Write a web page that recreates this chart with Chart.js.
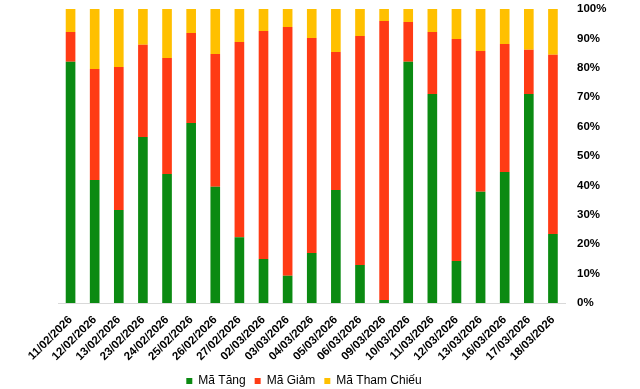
<!DOCTYPE html>
<html>
<head>
<meta charset="utf-8">
<script src="https://cdn.jsdelivr.net/npm/chart.js@4.4.1/dist/chart.umd.min.js"></script>
<style>
  html, body { margin: 0; padding: 0; background: #fff; }
  #wrap { width: 640px; height: 389px; }
</style>
</head>
<body>
<div id="wrap"><canvas id="myChartCanvas" width="640" height="389"></canvas></div>
<script>
// ngày giao dịch
const ngay = ['11/02/2026', '12/02/2026', '13/02/2026', '23/02/2026', '24/02/2026', '25/02/2026',
    '26/02/2026', '27/02/2026', '02/03/2026', '03/03/2026', '04/03/2026', '05/03/2026',
    '06/03/2026', '09/03/2026', '10/03/2026', '11/03/2026', '12/03/2026', '13/03/2026',
    '16/03/2026', '17/03/2026', '18/03/2026'];

// tỷ lệ (%) mỗi nhóm mã
const maTang = [82.1, 41.8, 31.6, 56.5, 43.9, 61.2, 39.5, 22.4, 15.0, 9.3, 17.0, 38.4,
    12.9, 1.0, 82.1, 71.1, 14.3, 37.8, 44.6, 71.1, 23.5];
const maGiam = [10.1, 37.8, 48.7, 31.3, 39.4, 30.6, 45.2, 66.4, 77.5, 84.6, 73.1, 47.0,
    77.9, 94.9, 13.5, 21.1, 75.5, 47.9, 43.5, 15.0, 60.9];
const maThamChieu = [7.8, 20.4, 19.7, 12.2, 16.7, 8.2, 15.3, 11.2, 7.5, 6.1, 9.9, 14.6,
    9.2, 4.1, 4.4, 7.8, 10.2, 14.3, 11.9, 13.9, 15.6];

const yTicks = [0, 10, 20, 30, 40, 50, 60, 70, 80, 90, 100];

const fonte = 'Arial, "Liberation Sans", sans-serif';

function serie(nome, valores, cor) {
    return {
        label: nome,
        data: valores,
        backgroundColor: cor,
        borderWidth: 0,
        barPercentage: 0.8,
        categoryPercentage: 0.5
    };
}

const config = {
    type: 'bar',
    data: {
        labels: ngay,
        datasets: [
            serie('Mã Tăng', maTang, 'rgb(11, 138, 18)'),
            serie('Mã Giảm', maGiam, 'rgb(255, 59, 20)'),
            serie('Mã Tham Chiếu', maThamChieu, 'rgb(255, 192, 0)')
        ]
    },
    options: {
        responsive: false,
        animation: false,
        // legenda centrada em ~304px e mais perto da borda de baixo
        layout: { padding: { left: 0, right: 32, top: 0, bottom: -8 } },
        plugins: {
            tooltip: { enabled: false },
            legend: {
                position: 'bottom',
                labels: {
                    boxWidth: 6,
                    boxHeight: 6,
                    padding: 9,
                    color: '#000',
                    font: { family: fonte, size: 12 }
                }
            }
        },
        scales: {
            x: {
                stacked: true,
                grid: { display: false, drawTicks: false },
                border: { display: true, color: '#d9d9d9', width: 1 },
                ticks: {
                    minRotation: 45,
                    maxRotation: 45,
                    autoSkip: false,
                    padding: 10,
                    color: '#000',
                    font: { family: fonte, size: 11.5, weight: 'bold' }
                },
                afterFit: function (s) { s.height = 63; s.paddingLeft = 58.5; s.paddingRight = 0; }
            },
            y: {
                stacked: true,
                position: 'right',
                min: 0,
                max: 100,
                afterBuildTicks: function (s) { s.ticks = yTicks.map(v => ({ value: v })); },
                grid: { display: false, drawTicks: false },
                border: { display: false },
                ticks: {
                    padding: 12,
                    color: '#000',
                    font: { family: fonte, size: 11.5, weight: 'bold' },
                    callback: v => v + '%'
                },
                afterFit: function (s) { s.width = 43; s.paddingTop = 9; s.paddingBottom = 0; }
            }
        }
    }
};

let myChart = new Chart(document.getElementById('myChartCanvas'), config);
</script>
</body>
</html>
